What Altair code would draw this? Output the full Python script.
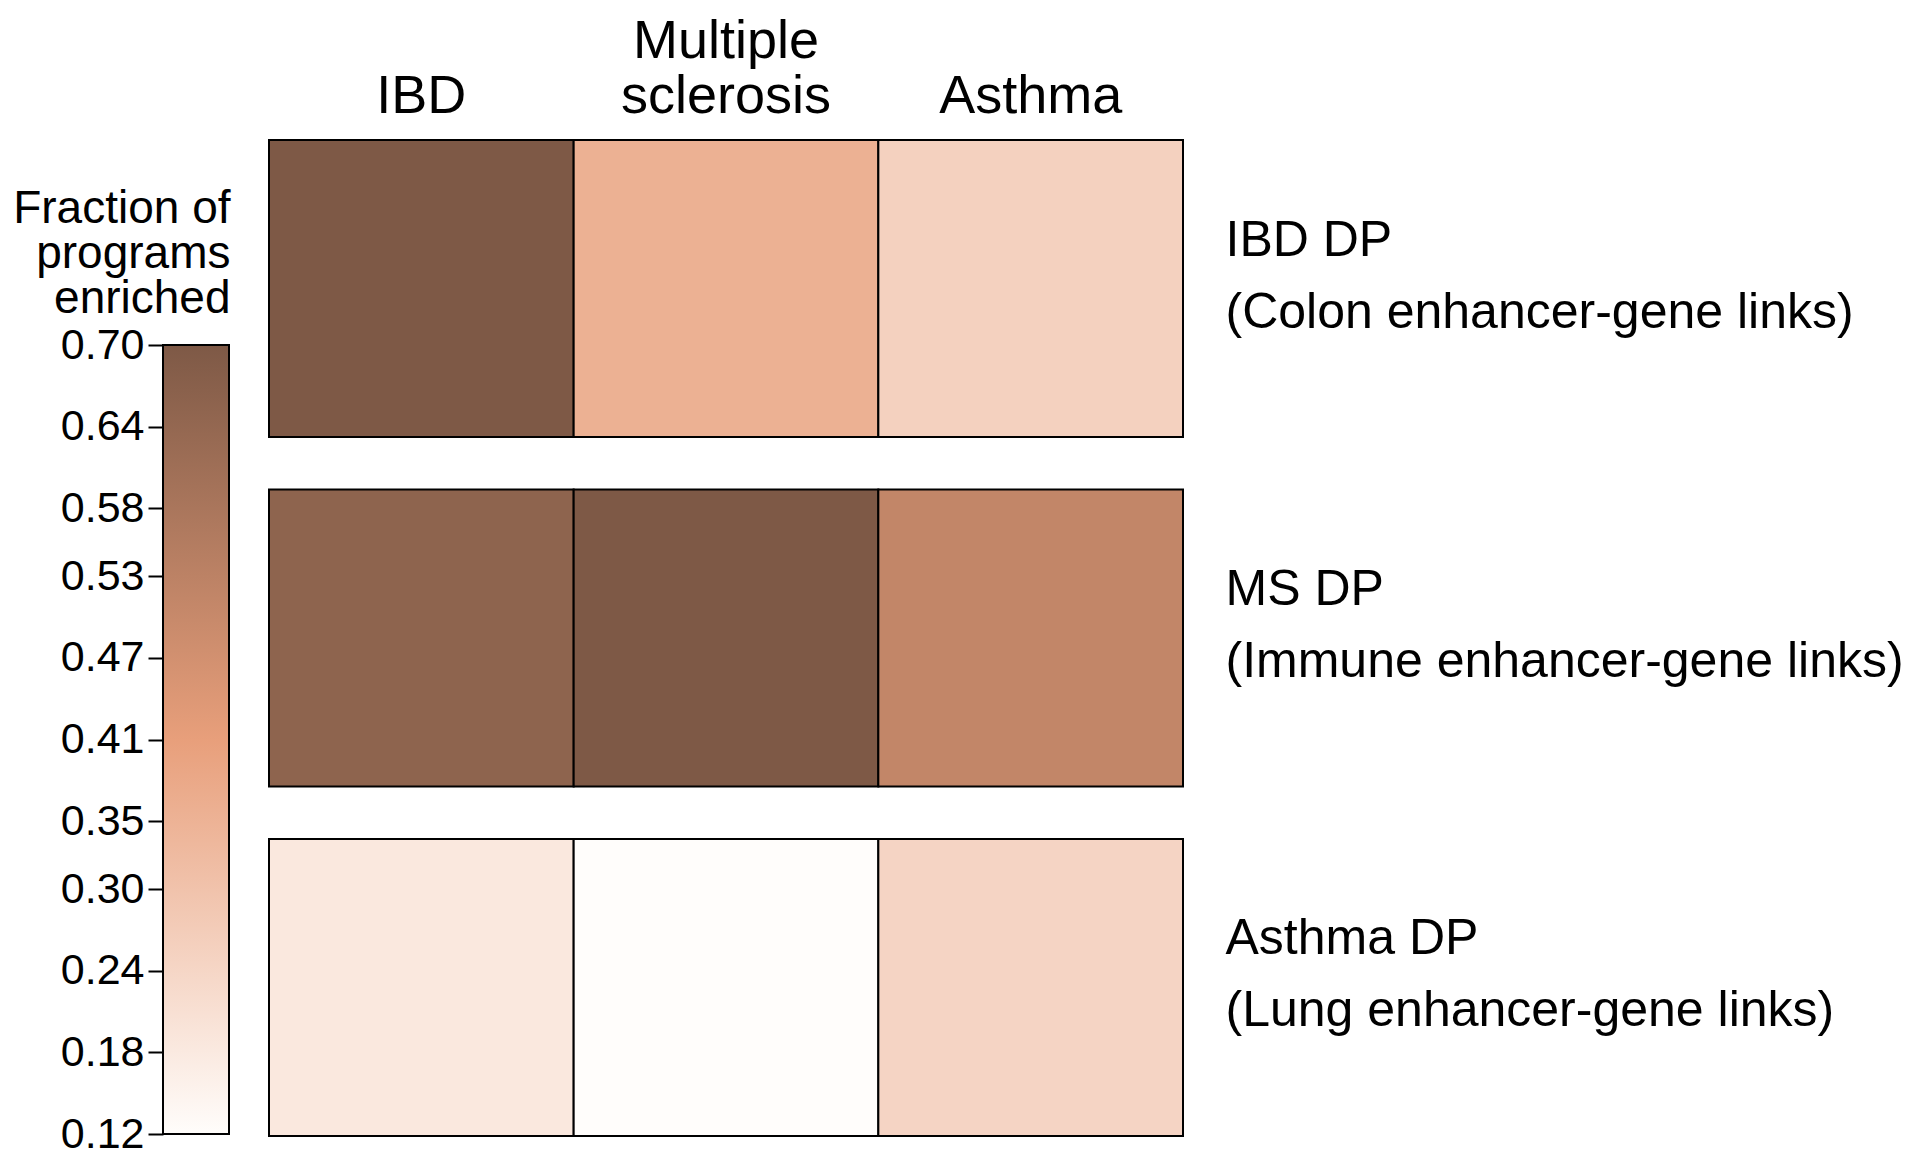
import altair as alt
import pandas as pd

# ---- data ----
COLUMNS = ["IBD", "Multiple sclerosis", "Asthma"]
ROW_NAMES = ["IBD DP", "MS DP", "Asthma DP"]
ROW_SUBTITLES = [
    "(Colon enhancer-gene links)",
    "(Immune enhancer-gene links)",
    "(Lung enhancer-gene links)",
]
IBD_DP_VALUES = [0.70, 0.355, 0.255]
MS_DP_VALUES = [0.655, 0.70, 0.515]
ASTHMA_DP_VALUES = [0.185, 0.12, 0.245]

LEGEND_TITLE = ["Fraction of", "programs", "enriched"]
LEGEND_TICKS = [0.12, 0.18, 0.24, 0.30, 0.35, 0.41, 0.47, 0.53, 0.58, 0.64, 0.70]

COLOR_DOMAIN = [0.12, 0.41, 0.70]
COLOR_RANGE = ["#fffdfb", "#e89f7b", "#7e5946"]

FONT = "Liberation Sans"

# ---- tables ----
row_keys = [f"{n}|{s}" for n, s in zip(ROW_NAMES, ROW_SUBTITLES)]
records = []
for key, vals in zip(row_keys, [IBD_DP_VALUES, MS_DP_VALUES, ASTHMA_DP_VALUES]):
    for col, v in zip(COLUMNS, vals):
        records.append({"row": key, "column": col, "value": v})
df = pd.DataFrame(records)

lo, hi = COLOR_DOMAIN[0], COLOR_DOMAIN[-1]
cb_df = pd.DataFrame({"lo": [lo], "hi": [hi]})
gradient = {
    "gradient": "linear",
    "x1": 0, "y1": 1, "x2": 0, "y2": 0,
    "stops": [{"offset": (d - lo) / (hi - lo), "color": c}
              for d, c in zip(COLOR_DOMAIN, COLOR_RANGE)],
}

PLOT_H = 996

colorbar = alt.Chart(cb_df).mark_rect(stroke="black", strokeWidth=2).encode(
    x=alt.value(0),
    x2=alt.value(66),
    y=alt.Y(
        "lo:Q",
        scale=alt.Scale(domain=[0.1186, 0.85078], nice=False, zero=False),
        axis=alt.Axis(
            values=LEGEND_TICKS, format=".2f", orient="left", domain=False,
            grid=False, tickSize=15, tickWidth=2, tickColor="black",
            labelFontSize=43, labelPadding=4, labelFlush=False,
            labelOverlap=False,
            title=LEGEND_TITLE, titleAngle=0, titleAlign="right",
            titleBaseline="middle", titleX=67, titleY=68,
            titleFontSize=46, titleFontWeight="normal", titleLineHeight=45,
        ),
    ),
    y2="hi:Q",
    fill=alt.value(gradient),
).properties(width=66, height=PLOT_H)

# single-line headers get an empty first line so all headers share a bottom line
header_expr = (
    "indexof(datum.value, ' ') > 0 ? split(datum.value, ' ') : ['', datum.value]"
)

heat = alt.Chart(df).mark_rect(stroke="black", strokeWidth=2).encode(
    x=alt.X(
        "column:N", sort=COLUMNS,
        scale=alt.Scale(paddingInner=0, paddingOuter=0),
        axis=alt.Axis(
            orient="top", title=None, domain=False, ticks=False,
            labelAngle=0, labelFontSize=54, labelLineHeight=55,
            labelPadding=72, labelBaseline="bottom", labelLimit=2000,
            labelOverlap=False, labelExpr=header_expr,
        ),
    ),
    y=alt.Y(
        "row:N", sort=row_keys,
        scale=alt.Scale(paddingInner=0.15, paddingOuter=0),
        axis=alt.Axis(
            orient="right", title=None, domain=False, ticks=False,
            labelFontSize=50, labelLineHeight=72, labelPadding=42,
            labelOffset=-48, labelAlign="left", labelBaseline="middle",
            labelLimit=2000, labelOverlap=False,
            labelExpr="split(datum.value, '|')",
        ),
    ),
    fill=alt.Fill(
        "value:Q",
        scale=alt.Scale(domain=COLOR_DOMAIN, range=COLOR_RANGE, interpolate="rgb"),
        legend=None,
    ),
).properties(width=914, height=PLOT_H)

chart = alt.hconcat(colorbar, heat, spacing=38).properties(
    padding={"left": 4, "top": 6, "right": 0, "bottom": 0}
).configure(font=FONT).configure_view(
    stroke="transparent", strokeWidth=0
).configure_axis(
    labelFont=FONT, titleFont=FONT, labelColor="black", titleColor="black"
)

chart.save("out.html", embed_options={"renderer": "svg", "actions": False})
